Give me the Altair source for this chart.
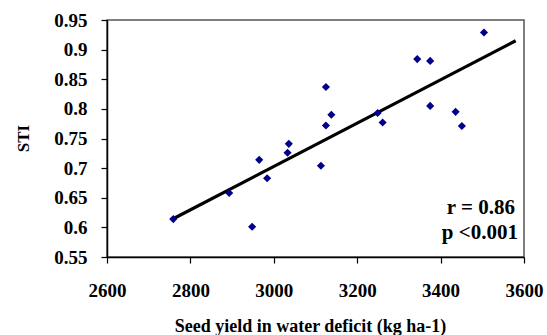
import altair as alt
import pandas as pd

# Seed yield under water deficit (kg ha-1) and stress tolerance index per genotype
seed_yield = [2759, 2893, 2948, 2965, 2984, 3036, 3033, 3113, 3125, 3138,
              3125, 3249, 3261, 3344, 3375, 3375, 3436, 3451, 3504]
sti = [0.614, 0.658, 0.601, 0.714, 0.683, 0.741, 0.726, 0.704, 0.837, 0.790,
       0.772, 0.793, 0.777, 0.884, 0.881, 0.805, 0.795, 0.771, 0.929]

# Linear trend line end points
trend_x = [2760, 3580]
trend_y = [0.615, 0.915]

x_ticks = [2600, 2800, 3000, 3200, 3400, 3600]
y_ticks = [0.55, 0.6, 0.65, 0.7, 0.75, 0.8, 0.85, 0.9, 0.95]

points_df = pd.DataFrame({"yield": seed_yield, "sti": sti})
trend_df = pd.DataFrame({"yield": trend_x, "sti": trend_y})

FONT = "Liberation Serif"

x_scale = alt.Scale(domain=[2600, 3600], nice=False, zero=False)
y_scale = alt.Scale(domain=[0.55, 0.95], nice=False, zero=False)

x_axis = alt.Axis(
    title="Seed yield in water deficit (kg ha-1)",
    values=x_ticks, format="d",
    labelPadding=27, labelBaseline="middle", labelFontSize=19,
    labelOverlap=False, labelFlush=False,
    titleX=203, titleY=69, titleBaseline="middle", titleFontSize=18,
)
y_axis = alt.Axis(
    title="STI",
    values=y_ticks, format=".2~f",
    labelPadding=14, labelFontSize=19,
    labelOverlap=False, labelFlush=False,
    titleAngle=270, titleX=-84, titleY=118, titleAlign="center",
    titleBaseline="middle", titleFontSize=17,
)

trend = alt.Chart(trend_df).mark_line(color="black", strokeWidth=3.2).encode(
    x=alt.X("yield:Q", scale=x_scale, axis=x_axis),
    y=alt.Y("sti:Q", scale=y_scale, axis=y_axis),
)

points = alt.Chart(points_df).mark_point(
    shape="diamond", filled=True, color="#00008b", size=66, opacity=1
).encode(
    x=alt.X("yield:Q", scale=x_scale, axis=x_axis),
    y=alt.Y("sti:Q", scale=y_scale, axis=y_axis),
)

r_text = alt.Chart(pd.DataFrame({"t": ["r = 0.86"]})).mark_text(
    align="right", baseline="middle", font=FONT, fontSize=21, fontWeight="bold",
    color="black",
).encode(x=alt.value(408), y=alt.value(188), text="t:N")

p_text = alt.Chart(pd.DataFrame({"t": ["p <0.001"]})).mark_text(
    align="right", baseline="middle", font=FONT, fontSize=21, fontWeight="bold",
    color="black",
).encode(x=alt.value(411), y=alt.value(213), text="t:N")

chart = alt.layer(trend, points, r_text, p_text).properties(
    width=417, height=237,
    autosize=alt.AutoSizeParams(type="none"),
    padding={"left": 107, "top": 20, "right": 23, "bottom": 78},
    background="white",
).configure_view(
    stroke="#555555", strokeWidth=1.5, fill="white"
).configure_axis(
    grid=False, domainColor="black", domainWidth=1.5,
    tickColor="black", tickSize=6, tickWidth=1.2,
    labelOverlap=False, labelFlush=False,
    labelFont=FONT, labelFontWeight="bold", labelColor="black",
    titleFont=FONT, titleFontWeight="bold", titleColor="black",
)

chart.save("out.html", embed_options={"renderer": "svg", "actions": False})
